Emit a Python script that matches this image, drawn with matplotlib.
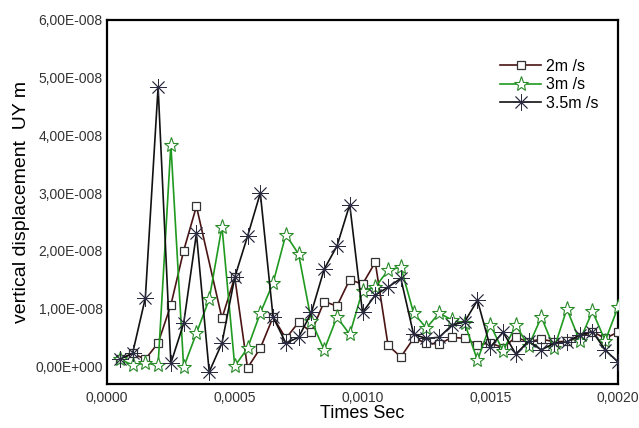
import matplotlib
matplotlib.use("Agg")
import matplotlib.pyplot as plt

plt.rcParams['font.family'] = ['Liberation Sans', 'DejaVu Sans']

# ---- data (displacement in units of 1e-8 m) ----
times_all = [0.00005, 0.00010, 0.00015, 0.00020, 0.00025, 0.00030, 0.00035, 0.00040,
             0.00045, 0.00050, 0.00055, 0.00060, 0.00065, 0.00070, 0.00075, 0.00080,
             0.00085, 0.00090, 0.00095, 0.00100, 0.00105, 0.00110, 0.00115, 0.00120,
             0.00125, 0.00130, 0.00135, 0.00140, 0.00145, 0.00150, 0.00155, 0.00160,
             0.00165, 0.00170, 0.00175, 0.00180, 0.00185, 0.00190, 0.00195, 0.00200]

times_2 = [0.00005, 0.00010, 0.00015, 0.00020, 0.00025, 0.00030, 0.00035,
           0.00045, 0.00050, 0.00055, 0.00060, 0.00065, 0.00070, 0.00075, 0.00080,
           0.00085, 0.00090, 0.00095, 0.00100, 0.00105, 0.00110, 0.00115, 0.00120,
           0.00125, 0.00130, 0.00135, 0.00140, 0.00145, 0.00150, 0.00155, 0.00160,
           0.00165, 0.00170, 0.00175, 0.00180, 0.00185, 0.00190, 0.00195, 0.00200]
uy_2 = [0.12, 0.22, 0.12, 0.40, 1.06, 2.00, 2.77,
        0.83, 1.54, -0.03, 0.31, 0.85, 0.48, 0.76, 0.59,
        1.12, 1.04, 1.50, 1.42, 1.80, 0.36, 0.16, 0.48,
        0.40, 0.38, 0.50, 0.48, 0.37, 0.40, 0.32, 0.50,
        0.42, 0.47, 0.42, 0.43, 0.50, 0.60, 0.48, 0.59]

uy_3 = [0.12, 0.02, 0.05, 0.02, 3.84, -0.02, 0.57, 1.16,
        2.42, 0.00, 0.31, 0.92, 1.44, 2.28, 1.94, 0.78,
        0.28, 0.85, 0.55, 1.31, 1.37, 1.66, 1.72, 0.92,
        0.66, 0.92, 0.80, 0.74, 0.10, 0.72, 0.26, 0.71,
        0.35, 0.85, 0.31, 0.99, 0.44, 0.95, 0.44, 1.02]

uy_35 = [0.12, 0.22, 1.18, 4.84, 0.05, 0.74, 2.30, -0.10,
         0.40, 1.54, 2.25, 3.00, 0.85, 0.40, 0.50, 0.93,
         1.68, 2.08, 2.80, 0.93, 1.23, 1.37, 1.52, 0.55,
         0.48, 0.50, 0.71, 0.77, 1.14, 0.33, 0.59, 0.21,
         0.43, 0.28, 0.40, 0.42, 0.54, 0.60, 0.28, 0.07]

series_labels = ['2m /s', '3m /s', '3.5m /s']

x_ticks = [0.0, 0.0005, 0.0010, 0.0015, 0.0020]
x_tick_labels = ['0,0000', '0,0005', '0,0010', '0,0015', '0,0020']
y_ticks = [0, 1, 2, 3, 4, 5, 6]
y_tick_labels = ['0,00E+000', '1,00E-008', '2,00E-008', '3,00E-008',
                 '4,00E-008', '5,00E-008', '6,00E-008']

fig = plt.figure(figsize=(6.39, 4.28), dpi=100)
ax = fig.add_axes([107/639, 1 - 384/428, 511/639, 364/428])

ax.plot(times_2, uy_2, color='#4a1414', lw=1.2, marker='s', ms=6,
        mfc='white', mec='#333333', mew=0.9, label=series_labels[0], zorder=3)
ax.plot(times_all, uy_3, color='#1f9a1f', lw=1.2, marker='*', ms=11,
        mfc='white', mec='#2a8a2a', mew=0.8, label=series_labels[1], zorder=3)
ax.plot(times_all, uy_35, color='#111111', lw=1.2, marker=(8, 2, 0), ms=12,
        mec='#2a2a40', mew=0.6, label=series_labels[2], zorder=4)

ax.set_xlim(0, 0.002)
ax.set_ylim(-0.31, 6.0)
ax.set_xticks(x_ticks)
ax.set_xticklabels(x_tick_labels)
ax.set_yticks(y_ticks)
ax.set_yticklabels(y_tick_labels)
ax.tick_params(length=0, labelsize=10, colors='#333333', pad=3)
ax.tick_params(axis='x', pad=5)

for s in ax.spines.values():
    s.set_linewidth(1.6)
    s.set_color('black')

ax.set_xlabel('Times Sec', fontsize=13, labelpad=0)
ax.set_ylabel('vertical displacement  UY m', fontsize=14, labelpad=4)

leg = ax.legend(loc='upper left', bbox_to_anchor=(0.769, 0.893), frameon=False,
                fontsize=11.5, handlelength=2.6, labelspacing=0.22,
                handletextpad=0.3, borderaxespad=0, borderpad=0)

fig.savefig('out.png', dpi=100)
